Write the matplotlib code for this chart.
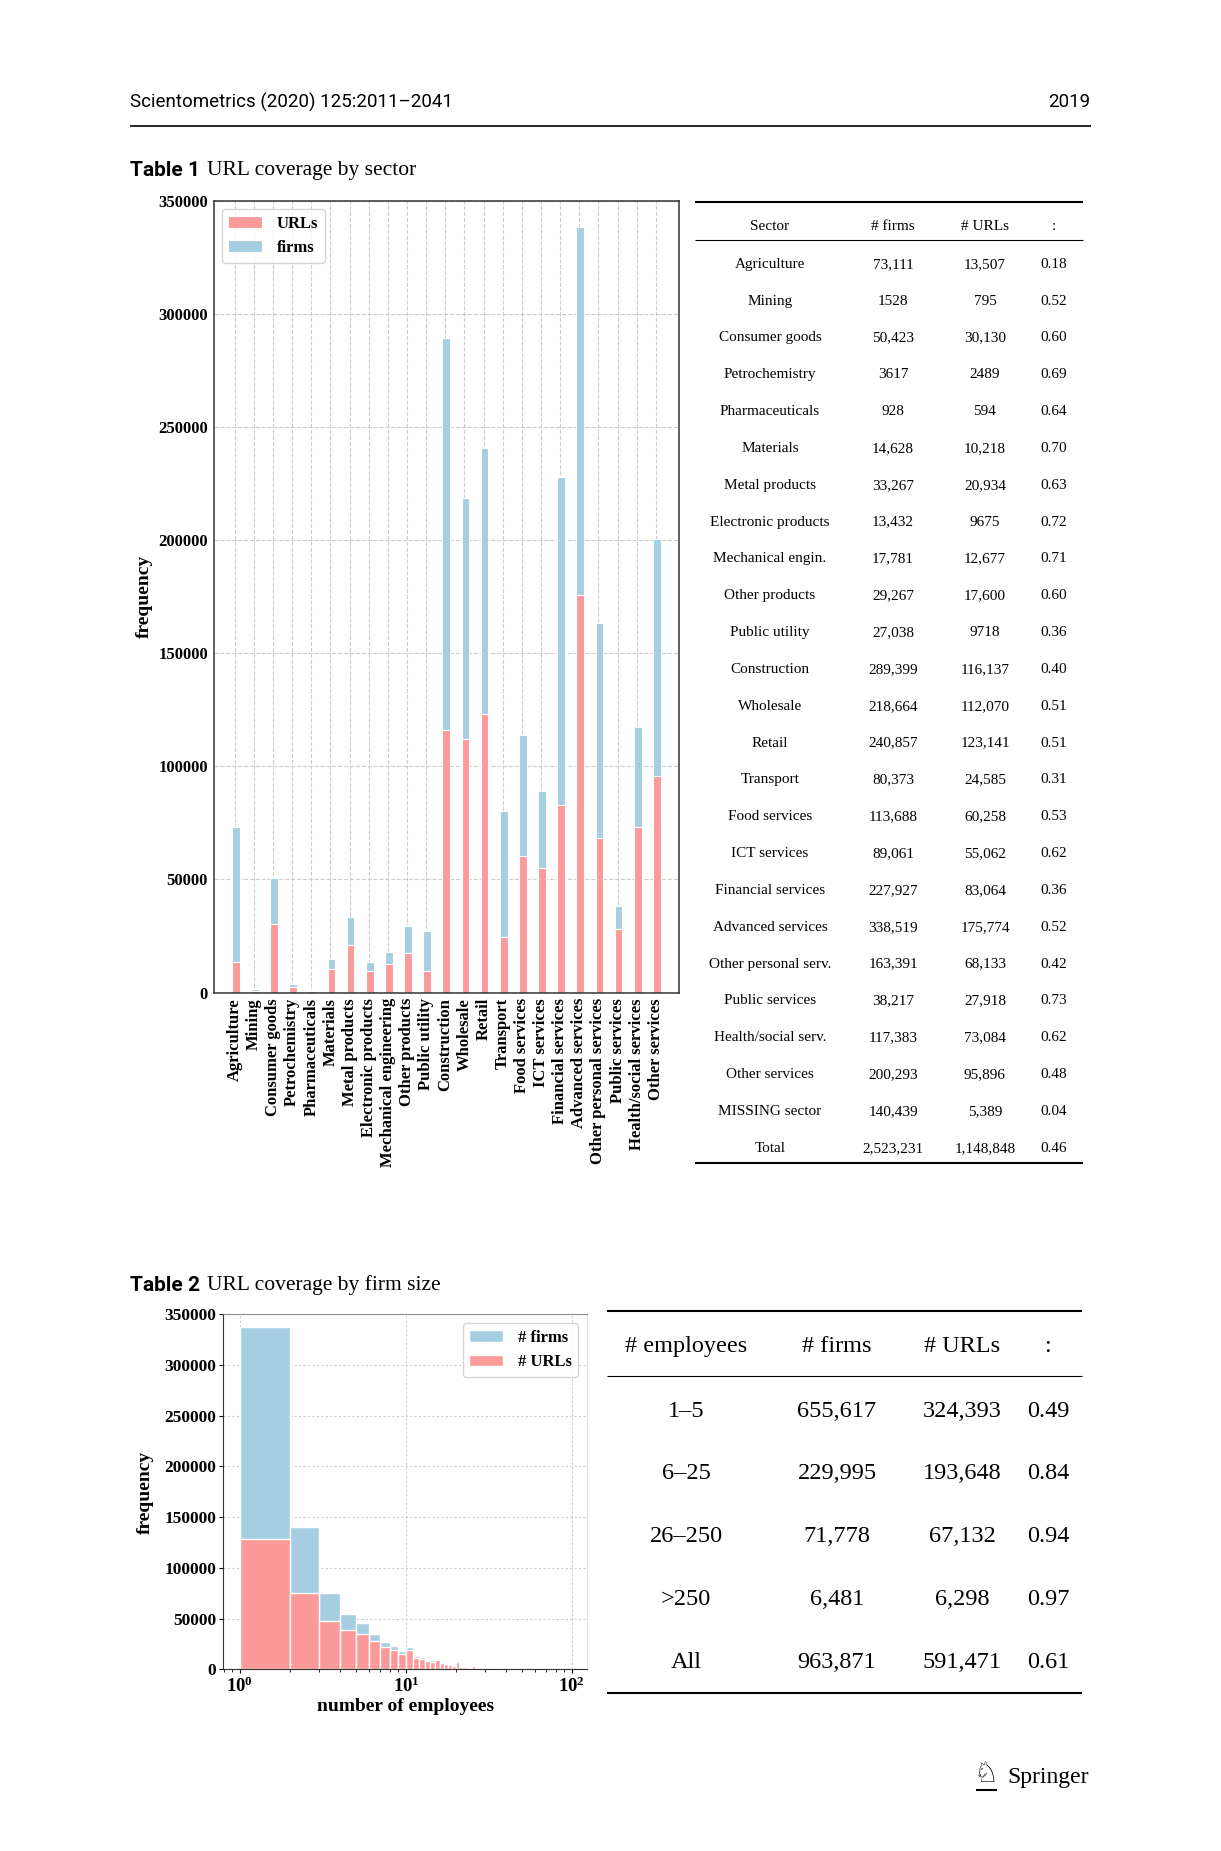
import matplotlib
matplotlib.use('Agg')
import matplotlib.pyplot as plt
from matplotlib.lines import Line2D
from matplotlib.ticker import FuncFormatter, LogLocator, NullFormatter
import numpy as np

plt.rcParams['font.family'] = ['Liberation Serif', 'DejaVu Serif']
plt.rcParams['mathtext.fontset'] = 'custom'
plt.rcParams['mathtext.bf'] = 'Liberation Serif:bold'
plt.rcParams['mathtext.rm'] = 'Liberation Serif'

W, H = 1221, 1851
SANS = ['Liberation Sans Narrow', 'Roboto', 'DejaVu Sans']

# ---- Table 1 / chart 1 data ----
sector_rows = ['Agriculture', 'Mining', 'Consumer goods', 'Petrochemistry', 'Pharmaceuticals',
               'Materials', 'Metal products', 'Electronic products', 'Mechanical engin.',
               'Other products', 'Public utility', 'Construction', 'Wholesale', 'Retail',
               'Transport', 'Food services', 'ICT services', 'Financial services',
               'Advanced services', 'Other personal serv.', 'Public services',
               'Health/social serv.', 'Other services', 'MISSING sector', 'Total']
firms_txt = ['73,111', '1528', '50,423', '3617', '928', '14,628', '33,267', '13,432', '17,781',
             '29,267', '27,038', '289,399', '218,664', '240,857', '80,373', '113,688', '89,061',
             '227,927', '338,519', '163,391', '38,217', '117,383', '200,293', '140,439', '2,523,231']
urls_txt = ['13,507', '795', '30,130', '2489', '594', '10,218', '20,934', '9675', '12,677',
            '17,600', '9718', '116,137', '112,070', '123,141', '24,585', '60,258', '55,062',
            '83,064', '175,774', '68,133', '27,918', '73,084', '95,896', '5,389', '1,148,848']
ratio_txt = ['0.18', '0.52', '0.60', '0.69', '0.64', '0.70', '0.63', '0.72', '0.71', '0.60',
             '0.36', '0.40', '0.51', '0.51', '0.31', '0.53', '0.62', '0.36', '0.52', '0.42',
             '0.73', '0.62', '0.48', '0.04', '0.46']

sector_labels = ['Agriculture', 'Mining', 'Consumer goods', 'Petrochemistry', 'Pharmaceuticals',
                 'Materials', 'Metal products', 'Electronic products', 'Mechanical engineering',
                 'Other products', 'Public utility', 'Construction', 'Wholesale', 'Retail',
                 'Transport', 'Food services', 'ICT services', 'Financial services',
                 'Advanced services', 'Other personal services', 'Public services',
                 'Health/social services', 'Other services']
n_sec = len(sector_labels)
firms = [int(s.replace(',', '')) for s in firms_txt[:n_sec]]
urls = [int(s.replace(',', '')) for s in urls_txt[:n_sec]]

# ---- Table 2 / chart 2 data ----
emp_rows = ['1\u20135', '6\u201325', '26\u2013250', '>250', 'All']
emp_firms_txt = ['655,617', '229,995', '71,778', '6,481', '963,871']
emp_urls_txt = ['324,393', '193,648', '67,132', '6,298', '591,471']
emp_ratio_txt = ['0.49', '0.84', '0.94', '0.97', '0.61']

size_employees = list(range(1, 61))
size_firms = [337900, 140700, 75600, 54900, 45700, 34500, 27300, 23300, 17600, 22300,
              12700, 12000, 9300, 8700, 10000, 7300, 5700, 5000, 4000, 8000,
              3300, 3000, 2700, 2000, 4300, 1600, 1400, 1300, 1100, 2200,
              900, 900, 800, 700, 1600, 600, 500, 500, 500, 1300,
              400, 400, 300, 300, 800, 300, 250, 250, 200, 1000,
              200, 200, 180, 180, 300, 150, 150, 150, 150, 500]
size_urls = [128500, 75600, 48000, 38800, 34500, 27600, 21700, 19300, 15000, 18700,
             10700, 10300, 7700, 7300, 9000, 6000, 5000, 4300, 3300, 7300,
             2700, 2300, 2000, 1700, 3700, 1400, 1200, 1100, 1000, 2000,
             800, 800, 700, 600, 1500, 500, 450, 450, 450, 1200,
             350, 350, 300, 300, 750, 280, 230, 230, 180, 950,
             180, 180, 160, 160, 280, 140, 140, 140, 140, 460]

RED = '#fb9a99'
BLUE = '#a6cee3'


def fx(x):
    return x / W


def fy(y):
    return 1 - y / H


def hline(fig, x0, x1, y, lw):
    fig.add_artist(Line2D([fx(x0), fx(x1)], [fy(y), fy(y)], transform=fig.transFigure,
                          color='black', lw=lw, solid_capstyle='butt'))


fig = plt.figure(figsize=(W / 100, H / 100), dpi=100)

# page header
fig.text(fx(130), fy(102), 'Scientometrics (2020) 125:2011\u20132041', family=SANS,
         fontsize=13.5, va='center', ha='left')
fig.text(fx(1090), fy(102), '2019', family=SANS, fontsize=13.5, va='center', ha='right')
hline(fig, 130, 1091, 125.7, 1.2)

# captions
fig.text(fx(130), fy(170), 'Table 1', family=SANS, weight='bold', fontsize=15, va='center')
fig.text(fx(207), fy(170), 'URL coverage by sector', fontsize=15.5, va='center')
fig.text(fx(130), fy(1285), 'Table 2', family=SANS, weight='bold', fontsize=15, va='center')
fig.text(fx(207), fy(1285), 'URL coverage by firm size', fontsize=15.5, va='center')

# ---- chart 1 ----
l, r, t, b = 213.5, 678.7, 200.7, 992.5
ax1 = fig.add_axes([fx(l), fy(b), (r - l) / W, (b - t) / H])
x = np.arange(n_sec)
bf = ax1.bar(x + 0.05, firms, width=0.4, color=BLUE, edgecolor='white', lw=0.8, label='firms')
bu = ax1.bar(x + 0.05, urls, width=0.4, color=RED, edgecolor='white', lw=0.8, label='URLs')
ax1.set_xlim(-1.11, 23.19)
ax1.set_ylim(0, 350000)
ax1.set_yticks(np.arange(0, 350001, 50000))
ax1.set_xticks(x)
ax1.set_xticklabels(sector_labels, rotation=90, fontsize=12, weight='bold')
for lab in ax1.get_yticklabels():
    lab.set_fontweight('bold')
    lab.set_fontsize(12)
ax1.tick_params(axis='both', length=0, pad=4)
ax1.set_axisbelow(True)
ax1.grid(True, ls='--', color='#cccccc', lw=0.8)
for s in ax1.spines.values():
    s.set_color('#333333')
    s.set_linewidth(1.1)
ax1.legend(handles=[bu, bf], loc='upper left', bbox_to_anchor=(0.0176, 0.9895),
           borderaxespad=0, prop={'weight': 'bold', 'size': 12}, handletextpad=0.9)
fig.text(fx(144), fy(596), 'frequency', rotation=90, weight='bold', fontsize=14,
         ha='center', va='center')

# ---- table 1 ----
hline(fig, 695, 1083, 202.3, 1.5)
hline(fig, 695, 1083, 240.5, 0.8)
hline(fig, 695, 1083, 1162.7, 1.5)
cols1 = [770, 893, 985, 1054]
for cx, txt in zip(cols1, ['Sector', '# firms', '# URLs', ':']):
    fig.text(fx(cx), fy(226.5), txt, fontsize=11, ha='center', va='center')
for i in range(len(sector_rows)):
    yy = 264.3 + i * 36.83
    for cx, txt in zip(cols1, [sector_rows[i], firms_txt[i], urls_txt[i], ratio_txt[i]]):
        fig.text(fx(cx), fy(yy), txt, fontsize=11, ha='center', va='center')

# ---- chart 2 ----
l, r, t, b = 223.3, 586.7, 1314.3, 1669.3
ax2 = fig.add_axes([fx(l), fy(b), (r - l) / W, (b - t) / H])
hf = ax2.bar(size_employees, size_firms, width=1, align='edge', color=BLUE,
             edgecolor='white', lw=1, label='# firms')
hu = ax2.bar(size_employees, size_urls, width=1, align='edge', color=RED,
             edgecolor='white', lw=1, label='# URLs')
ax2.set_xscale('log')
ax2.set_xlim(10 ** -0.1, 10 ** 2.089)
ax2.set_ylim(0, 350000)
ax2.set_yticks(np.arange(0, 350001, 50000))
ax2.xaxis.set_major_locator(LogLocator(base=10))
ax2.xaxis.set_major_formatter(FuncFormatter(lambda v, p: r'$\mathbf{10^{%d}}$' % round(np.log10(v))))
ax2.xaxis.set_minor_locator(LogLocator(base=10, subs=np.arange(2, 10)))
ax2.xaxis.set_minor_formatter(NullFormatter())
for lab in ax2.get_yticklabels():
    lab.set_fontweight('bold')
    lab.set_fontsize(12.5)
ax2.tick_params(axis='x', labelsize=13.5, length=3, pad=2)
ax2.tick_params(axis='y', length=3, pad=2)
ax2.tick_params(axis='x', which='minor', length=2)
ax2.set_axisbelow(True)
ax2.grid(True, which='major', ls=(0, (2, 2)), color='#cccccc', lw=0.8)
ax2.spines['left'].set_color('#333333')
ax2.spines['bottom'].set_color('#333333')
ax2.spines['top'].set_color('#888888')
ax2.spines['right'].set_color('#e4e4e4')
ax2.legend(handles=[hf, hu], loc='upper right', bbox_to_anchor=(0.9769, 0.9746),
           borderaxespad=0, prop={'weight': 'bold', 'size': 12}, handletextpad=0.9)
fig.text(fx(145), fy(1492), 'frequency', rotation=90, weight='bold', fontsize=14,
         ha='center', va='center')
fig.text(fx(405.7), fy(1706.7), 'number of employees', weight='bold', fontsize=14,
         ha='center', va='center')

# ---- table 2 ----
hline(fig, 607, 1082, 1311, 1.5)
hline(fig, 607, 1082, 1376, 0.8)
hline(fig, 607, 1082, 1692.7, 1.5)
cols2 = [686, 837, 962, 1048]
for cx, txt in zip(cols2, ['# employees', '# firms', '# URLs', ':']):
    fig.text(fx(cx), fy(1346.7), txt, fontsize=17.5, ha='center', va='center')
for i in range(len(emp_rows)):
    yy = 1411 + i * 62.8
    for cx, txt in zip(cols2, [emp_rows[i], emp_firms_txt[i], emp_urls_txt[i], emp_ratio_txt[i]]):
        fig.text(fx(cx), fy(yy), txt, fontsize=17.5, ha='center', va='center')

# ---- footer logo ----
fig.text(fx(986), fy(1774), '\u2658', family=['DejaVu Sans'], fontsize=20, ha='center', va='center')
hline(fig, 976, 997, 1789.5, 1.5)
fig.text(fx(1007.7), fy(1777), 'Springer', fontsize=17, ha='left', va='center')

fig.savefig('out.png', dpi=100)
